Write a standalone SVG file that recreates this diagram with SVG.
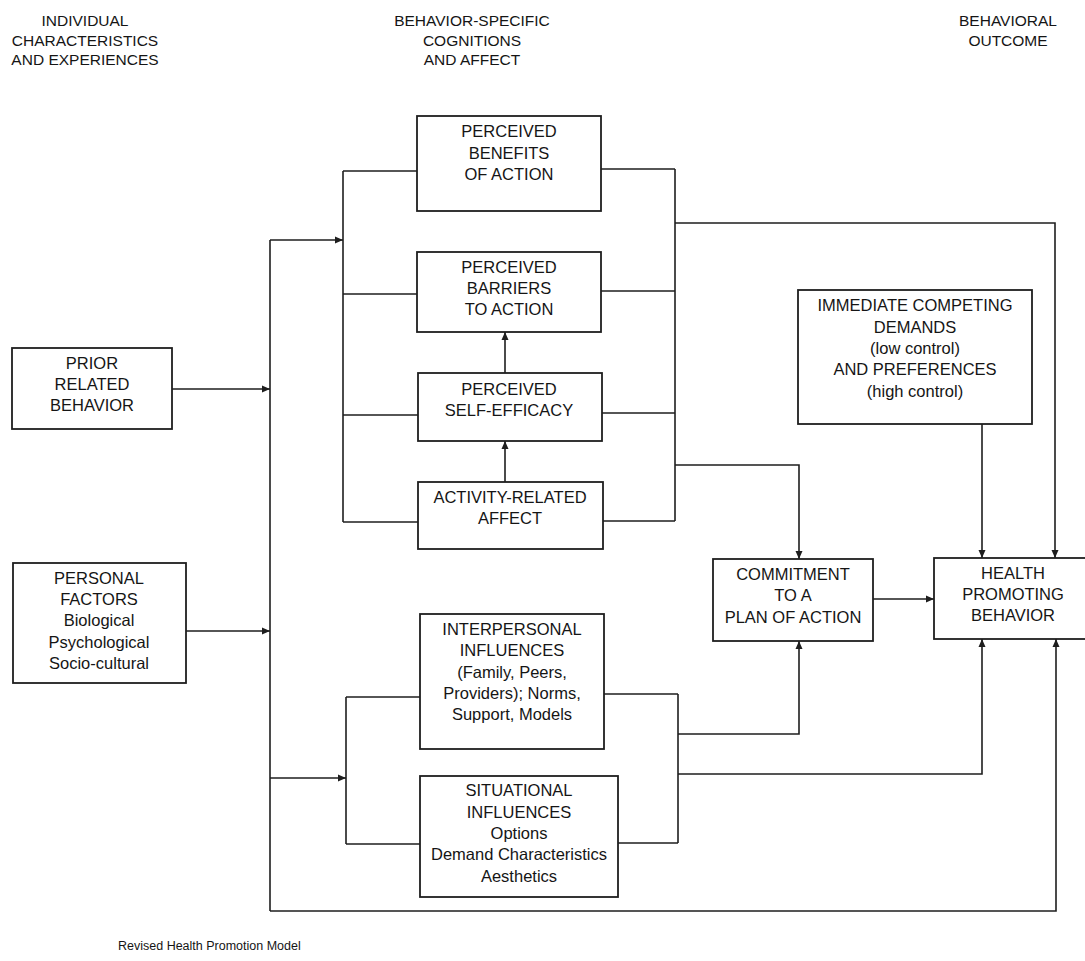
<svg xmlns="http://www.w3.org/2000/svg" width="1085" height="961" viewBox="0 0 1085 961">
<style>
.box{fill:#fff;stroke:#1e1e1e;stroke-width:1.8}
.t{font-family:"Liberation Sans",Arial,sans-serif;font-size:16.5px;fill:#151515;text-anchor:middle}
.h{font-family:"Liberation Sans",Arial,sans-serif;font-size:15.5px;fill:#151515;text-anchor:middle}
.f{font-family:"Liberation Sans",Arial,sans-serif;font-size:12.5px;fill:#151515}
.c{fill:none;stroke:#1e1e1e;stroke-width:1.6}
.a{fill:none;stroke:#1e1e1e;stroke-width:1.6;marker-end:url(#arr)}
</style>
<defs>
<marker id="arr" markerUnits="userSpaceOnUse" markerWidth="9" markerHeight="8" refX="8" refY="4" orient="auto">
<path d="M0,0.5 L8,4 L0,7.5 z" fill="#1e1e1e"/>
</marker>
</defs>
<rect width="1085" height="961" fill="#fff"/>

<g id="headers">
<text class="h" x="85" y="26">INDIVIDUAL</text>
<text class="h" x="85" y="45.5">CHARACTERISTICS</text>
<text class="h" x="85" y="65">AND EXPERIENCES</text>
<text class="h" x="472" y="26">BEHAVIOR-SPECIFIC</text>
<text class="h" x="472" y="45.5">COGNITIONS</text>
<text class="h" x="472" y="65">AND AFFECT</text>
<text class="h" x="1008" y="26">BEHAVIORAL</text>
<text class="h" x="1008" y="46">OUTCOME</text>
</g>

<g id="connectors">
<line class="a" x1="172" y1="389" x2="270" y2="389"/>
<line class="a" x1="186" y1="631" x2="270" y2="631"/>
<line class="c" x1="270" y1="240" x2="270" y2="911"/>
<line class="a" x1="270" y1="240" x2="343" y2="240"/>
<line class="c" x1="343" y1="171" x2="343" y2="522"/>
<line class="c" x1="343" y1="171" x2="417" y2="171"/>
<line class="c" x1="343" y1="294" x2="417" y2="294"/>
<line class="c" x1="343" y1="415" x2="418" y2="415"/>
<line class="c" x1="343" y1="522" x2="418" y2="522"/>
<line class="c" x1="601" y1="169" x2="675" y2="169"/>
<line class="c" x1="601" y1="291" x2="675" y2="291"/>
<line class="c" x1="602" y1="413" x2="675" y2="413"/>
<line class="c" x1="603" y1="521" x2="675" y2="521"/>
<line class="c" x1="675" y1="169" x2="675" y2="521"/>
<polyline class="a" points="675,223 1055,223 1055,558"/>
<polyline class="a" points="675,465 799,465 799,559"/>
<line class="a" x1="505" y1="373" x2="505" y2="332"/>
<line class="a" x1="505" y1="482" x2="505" y2="441"/>
<line class="a" x1="270" y1="778" x2="346" y2="778"/>
<line class="c" x1="346" y1="697" x2="346" y2="844"/>
<line class="c" x1="346" y1="697" x2="420" y2="697"/>
<line class="c" x1="346" y1="844" x2="420" y2="844"/>
<line class="c" x1="604" y1="694" x2="678" y2="694"/>
<line class="c" x1="618" y1="843" x2="678" y2="843"/>
<line class="c" x1="678" y1="694" x2="678" y2="843"/>
<polyline class="a" points="678,734 799,734 799,641"/>
<polyline class="a" points="678,774 982,774 982,639"/>
<polyline class="a" points="270,911 1056,911 1056,639"/>
<line class="a" x1="873" y1="599" x2="934" y2="599"/>
<line class="a" x1="982" y1="424" x2="982" y2="558"/>
</g>

<g id="node-benefits">
<rect class="box" x="417" y="116" width="184" height="95"/>
<text class="t" x="509" y="137">PERCEIVED</text>
<text class="t" x="509" y="158.5">BENEFITS</text>
<text class="t" x="509" y="180">OF ACTION</text>
</g>
<g id="node-barriers">
<rect class="box" x="417" y="252" width="184" height="80"/>
<text class="t" x="509" y="272.5">PERCEIVED</text>
<text class="t" x="509" y="294">BARRIERS</text>
<text class="t" x="509" y="315">TO ACTION</text>
</g>
<g id="node-selfefficacy">
<rect class="box" x="418" y="373" width="184" height="68"/>
<text class="t" x="509" y="394.5">PERCEIVED</text>
<text class="t" x="509" y="416">SELF-EFFICACY</text>
</g>
<g id="node-activity">
<rect class="box" x="418" y="482" width="185" height="67"/>
<text class="t" x="510" y="502.5">ACTIVITY-RELATED</text>
<text class="t" x="510" y="523.5">AFFECT</text>
</g>
<g id="node-prior">
<rect class="box" x="12" y="348" width="160" height="81"/>
<text class="t" x="92" y="368.5">PRIOR</text>
<text class="t" x="92" y="390">RELATED</text>
<text class="t" x="92" y="411">BEHAVIOR</text>
</g>
<g id="node-personal">
<rect class="box" x="13" y="563" width="173" height="120"/>
<text class="t" x="99" y="583.5">PERSONAL</text>
<text class="t" x="99" y="604.5">FACTORS</text>
<text class="t" x="99" y="626">Biological</text>
<text class="t" x="99" y="647.5">Psychological</text>
<text class="t" x="99" y="669">Socio-cultural</text>
</g>
<g id="node-interpersonal">
<rect class="box" x="420" y="614" width="184" height="135"/>
<text class="t" x="512" y="635">INTERPERSONAL</text>
<text class="t" x="512" y="656">INFLUENCES</text>
<text class="t" x="512" y="677.5">(Family, Peers,</text>
<text class="t" x="512" y="699">Providers); Norms,</text>
<text class="t" x="512" y="720">Support, Models</text>
</g>
<g id="node-situational">
<rect class="box" x="420" y="776" width="198" height="121"/>
<text class="t" x="519" y="796">SITUATIONAL</text>
<text class="t" x="519" y="817.5">INFLUENCES</text>
<text class="t" x="519" y="838.5">Options</text>
<text class="t" x="519" y="860">Demand Characteristics</text>
<text class="t" x="519" y="881.5">Aesthetics</text>
</g>
<g id="node-competing">
<rect class="box" x="798" y="290" width="234" height="134"/>
<text class="t" x="915" y="311">IMMEDIATE COMPETING</text>
<text class="t" x="915" y="332.5">DEMANDS</text>
<text class="t" x="915" y="353.5">(low control)</text>
<text class="t" x="915" y="375">AND PREFERENCES</text>
<text class="t" x="915" y="396.5">(high control)</text>
</g>
<g id="node-commitment">
<rect class="box" x="713" y="559" width="160" height="82"/>
<text class="t" x="793" y="580">COMMITMENT</text>
<text class="t" x="793" y="601">TO A</text>
<text class="t" x="793" y="622.5">PLAN OF ACTION</text>
</g>
<g id="node-hpb">
<rect class="box" x="934" y="558" width="160" height="81"/>
<text class="t" x="1013" y="579">HEALTH</text>
<text class="t" x="1013" y="600">PROMOTING</text>
<text class="t" x="1013" y="621">BEHAVIOR</text>
</g>

<text class="f" x="118" y="950">Revised Health Promotion Model</text>
</svg>
